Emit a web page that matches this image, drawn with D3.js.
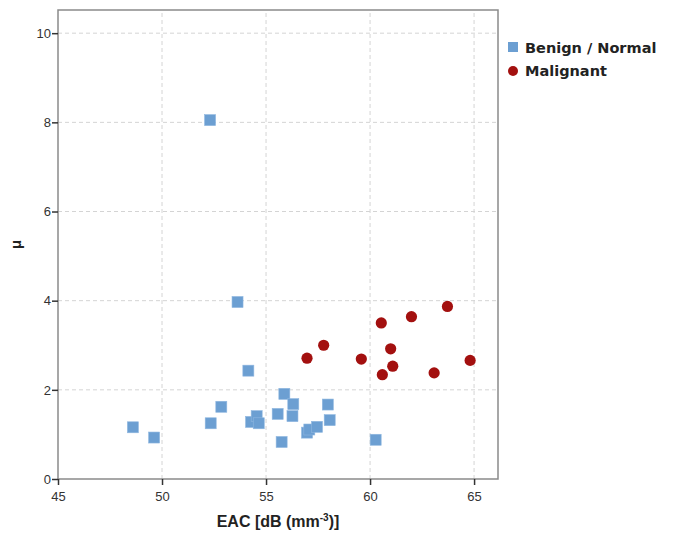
<!DOCTYPE html>
<html>
<head>
<meta charset="utf-8">
<script src="https://cdn.jsdelivr.net/npm/d3@7"></script>
<style>
  body { margin: 0; background: #fff; }
  text { font-family: "Liberation Sans", Arial, sans-serif; }
</style>
</head>
<body>
<div id="chart"></div>
<script>
var w = 673;
var h = 534;

// benign / normal (squares)
var benignX = [52.31, 53.63, 54.15, 48.6, 49.62, 52.34, 52.85, 54.28, 54.55, 54.65, 55.56, 55.75, 55.88, 56.31, 56.27, 56.97, 57.08, 57.45, 57.97, 58.06, 60.27];
var benignY = [8.05, 3.97, 2.43, 1.16, 0.93, 1.25, 1.62, 1.28, 1.41, 1.25, 1.46, 0.83, 1.91, 1.68, 1.41, 1.04, 1.11, 1.17, 1.67, 1.32, 0.88];

// malignant (circles)
var malX = [56.97, 57.77, 59.58, 60.54, 60.99, 61.09, 60.59, 61.99, 63.72, 63.08, 64.81];
var malY = [2.71, 3.00, 2.69, 3.50, 2.92, 2.53, 2.34, 3.64, 3.87, 2.38, 2.66];

var xTicks = [45, 50, 55, 60, 65];
var yTicks = [0, 2, 4, 6, 8, 10];
var legendLabels = ["Benign / Normal", "Malignant"];

var margin = {left: 58, top: 10, right: 175, bottom: 55};

function doChart()
{
    var svg = d3.select("#chart").append("svg")
        .attr("width", w)
        .attr("height", h)

    var x = d3.scaleLinear()
        .domain([45, 66.15])
        .range([margin.left, w - margin.right]);

    var y = d3.scaleLinear()
        .domain([0, 10.52])
        .range([h - margin.bottom, margin.top]);

    // grid
    svg.append("g").selectAll("line")
        .data(xTicks.slice(1))
        .enter().append("line")
        .attr("x1", d => x(d)).attr("x2", d => x(d))
        .attr("y1", y.range()[0]).attr("y2", y.range()[1])
        .attr("stroke", "#d4d4d4").attr("stroke-dasharray", "4,3");

    svg.append("g").selectAll("line")
        .data(yTicks.slice(1))
        .enter().append("line")
        .attr("y1", d => y(d)).attr("y2", d => y(d))
        .attr("x1", x.range()[0]).attr("x2", x.range()[1])
        .attr("stroke", "#d4d4d4").attr("stroke-dasharray", "4,3");

    // frame
    svg.append("rect")
        .attr("x", x.range()[0])
        .attr("y", y.range()[1])
        .attr("width", x.range()[1] - x.range()[0])
        .attr("height", y.range()[0] - y.range()[1])
        .attr("fill", "none")
        .attr("stroke", "#8a8a8a")
        .attr("stroke-width", 1.5);

    var xAxis = svg.append("g")
        .attr("transform", "translate(0," + y.range()[0] + ")")
        .call(d3.axisBottom(x).tickValues(xTicks).tickSize(6).tickSizeOuter(0));
    var yAxis = svg.append("g")
        .attr("transform", "translate(" + x.range()[0] + ",0)")
        .call(d3.axisLeft(y).tickValues(yTicks).tickSize(6).tickSizeOuter(0));

    [xAxis, yAxis].forEach(function(a){
        a.select(".domain").remove();
        a.selectAll(".tick line").attr("stroke", "#333").attr("stroke-width", 1.5);
        a.selectAll(".tick text")
            .attr("fill", "#333")
            .style("font-size", "13px")
            .style("font-family", "Liberation Sans, Arial, sans-serif");
    });
    xAxis.selectAll(".tick text").attr("dy", "1.0em");
    yAxis.selectAll(".tick text").attr("x", -7);

    // points
    var sq = 11;
    svg.append("g").selectAll("rect")
        .data(benignX)
        .enter().append("rect")
        .attr("x", (d, i) => x(d) - sq / 2)
        .attr("y", (d, i) => y(benignY[i]) - sq / 2)
        .attr("width", sq).attr("height", sq)
        .attr("fill", "#6c9fd2")
        .attr("stroke", "#8fb7e0").attr("stroke-width", 0.6);

    svg.append("g").selectAll("circle")
        .data(malX)
        .enter().append("circle")
        .attr("cx", d => x(d))
        .attr("cy", (d, i) => y(malY[i]))
        .attr("r", 5.6)
        .attr("fill", "#a3100f");

    // axis titles
    svg.append("text")
        .attr("x", (x.range()[0] + x.range()[1]) / 2)
        .attr("y", 527)
        .attr("text-anchor", "middle")
        .style("font-size", "16px")
        .style("font-weight", "bold")
        .attr("fill", "#222")
        .html('EAC [dB (mm<tspan dy="-6" font-size="10px">-3</tspan><tspan dy="6">)]</tspan>');

    svg.append("text")
        .attr("transform", "translate(21," + ((y.range()[0] + y.range()[1]) / 2) + ") rotate(-90)")
        .attr("text-anchor", "middle")
        .style("font-size", "15px")
        .style("font-weight", "bold")
        .attr("fill", "#222")
        .text("\u03bc");

    // legend
    var lg = svg.append("g");
    lg.append("rect")
        .attr("x", 508).attr("y", 42).attr("width", 10).attr("height", 10)
        .attr("fill", "#6c9fd2");
    lg.append("circle")
        .attr("cx", 513).attr("cy", 71).attr("r", 5)
        .attr("fill", "#a3100f");
    lg.selectAll("text")
        .data(legendLabels)
        .enter().append("text")
        .attr("x", 525)
        .attr("y", (d, i) => 53 + i * 23)
        .style("font-family", "'DejaVu Sans', sans-serif")
        .style("font-size", "14.5px")
        .style("font-weight", "bold")
        .attr("fill", "#222")
        .text(d => d);
}

doChart();
</script>
</body>
</html>
